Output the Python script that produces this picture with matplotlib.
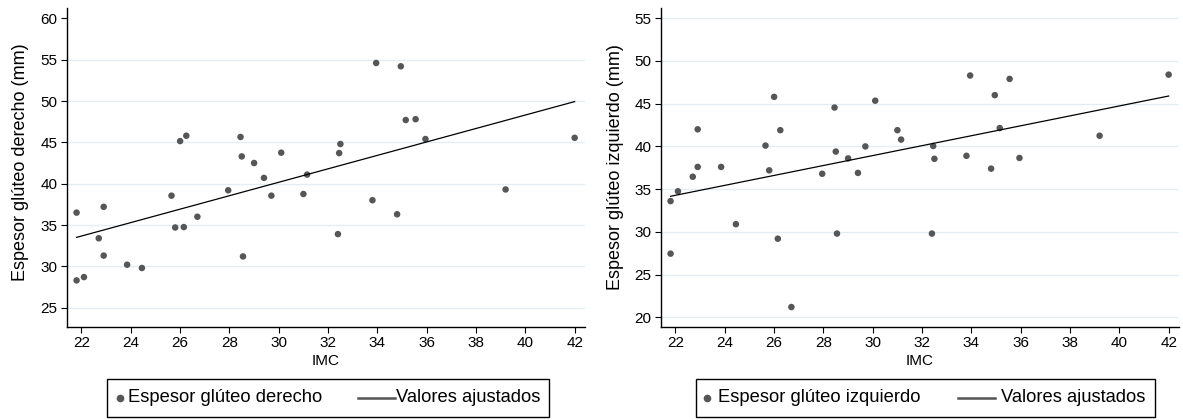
import numpy as np
import matplotlib
matplotlib.use("Agg")
import matplotlib.pyplot as plt
from matplotlib.lines import Line2D
from matplotlib.patches import Rectangle

plt.rcParams['font.family'] = ['Liberation Sans', 'DejaVu Sans']

# ---- data ----
imc = [21.8, 21.8, 22.1, 22.7, 22.9, 22.9, 23.85, 24.45, 25.65, 25.8, 26.0, 26.15,
       26.25, 26.7, 27.95, 28.45, 28.5, 28.55, 29.0, 29.4, 29.7, 30.1, 31.0, 31.15,
       32.4, 32.45, 32.5, 33.8, 33.95, 34.8, 34.95, 35.15, 35.55, 35.95, 39.2, 42.0]

derecho = [28.3, 36.5, 28.7, 33.4, 37.2, 31.3, 30.2, 29.8, 38.55, 34.7, 45.15, 34.75,
           45.8, 36.0, 39.2, 45.65, 43.3, 31.2, 42.5, 40.7, 38.55, 43.75, 38.75, 41.1,
           33.9, 43.7, 44.8, 38.0, 54.6, 36.3, 54.2, 47.7, 47.8, 45.4, 39.3, 45.55]

izquierdo = [27.45, 33.6, 34.75, 36.45, 42.0, 37.6, 37.6, 30.9, 40.1, 37.2, 45.8, 29.2,
             41.9, 21.2, 36.8, 44.55, 39.4, 29.8, 38.6, 36.9, 40.0, 45.35, 41.9, 40.8,
             29.8, 40.05, 38.55, 38.9, 48.3, 37.4, 46.0, 42.15, 47.9, 38.65, 41.25, 48.4]

xticks = [22, 24, 26, 28, 30, 32, 34, 36, 38, 40, 42]
yticks_left = [25, 30, 35, 40, 45, 50, 55, 60]
yticks_right = [20, 25, 30, 35, 40, 45, 50, 55]

ylabel_left = "Espesor glúteo derecho (mm)"
ylabel_right = "Espesor glúteo izquierdo (mm)"
xlabel = "IMC"
legend_left = ["Espesor glúteo derecho", "Valores ajustados"]
legend_right = ["Espesor glúteo izquierdo", "Valores ajustados"]

# ---- figure ----
W, H = 1183, 420
fig = plt.figure(figsize=(W / 100, H / 100), dpi=100)

dot_color = "#565656"
grid_color = "#e4eef2"


def fx(px):
    return px / W


def fy(py):
    return 1 - py / H


def make_panel(left_px, right_px, y, yticks, ylim, ylabel, ylab_pos,
               hide_top_grid, legend_labels, leg):
    ax = fig.add_axes([fx(left_px), fy(326.7), (right_px - left_px) / W, (326.7 - 8) / H])
    x = np.array(imc)
    yy = np.array(y)
    ax.scatter(x, yy, s=22, color=dot_color, edgecolors='none', zorder=3)
    b, a = np.polyfit(x, yy, 1)
    xs = np.array([x.min(), x.max()])
    ax.plot(xs, a + b * xs, color='black', lw=0.9, zorder=4)

    ax.set_xlim(21.4, 42.42)
    ax.set_ylim(*ylim)
    ax.set_xticks(xticks)
    ax.set_yticks(yticks)
    ax.tick_params(axis='both', direction='out', length=4.0, width=0.8,
                   labelsize=11, colors='black', pad=2.5)
    for s in ['top', 'right']:
        ax.spines[s].set_visible(False)
    for s in ['left', 'bottom']:
        ax.spines[s].set_linewidth(1.0)
        ax.spines[s].set_color('black')
    ax.yaxis.grid(True, color=grid_color, lw=1.0, zorder=0)
    ax.set_axisbelow(True)
    if hide_top_grid:
        ax.get_ygridlines()[-1].set_visible(False)
    ax.set_xlabel(xlabel, fontsize=11, labelpad=3)
    fig.text(fx(ylab_pos[0]), fy(ylab_pos[1]), ylabel, rotation=90,
             ha='center', va='center', fontsize=13)

    # legend box (drawn manually)
    bx0, bx1, by0, by1, dot_x, t1_x, l0, l1, t2_x = leg
    yc = fy((by0 + by1) / 2)
    fig.patches.append(Rectangle((fx(bx0), fy(by1)), (bx1 - bx0) / W, (by1 - by0) / H,
                                 transform=fig.transFigure, fill=False,
                                 edgecolor='black', lw=1.0))
    fig.lines.append(Line2D([fx(dot_x)], [yc], marker='o', ls='none', color=dot_color,
                            markersize=5.5, markeredgewidth=0, transform=fig.transFigure))
    fig.text(fx(t1_x), yc, legend_labels[0], ha='left', va='center', fontsize=13.2)
    fig.lines.append(Line2D([fx(l0), fx(l1)], [yc, yc], color='#555555', lw=1.8,
                            transform=fig.transFigure))
    fig.text(fx(t2_x), yc, legend_labels[1], ha='left', va='center', fontsize=13.2)
    return ax


ax1 = make_panel(66.7, 585, derecho, yticks_left, (22.7, 61.25), ylabel_left,
                 (20.7, 162.5), True, legend_left,
                 (107, 549, 379, 417, 120, 127.5, 358, 395, 395.5))
ax2 = make_panel(660.7, 1179, izquierdo, yticks_right, (18.9, 56.2), ylabel_right,
                 (615, 167), False, legend_right,
                 (696, 1155, 379, 417, 707, 717.5, 958, 995, 1001))

fig.savefig("out.png", dpi=100)
